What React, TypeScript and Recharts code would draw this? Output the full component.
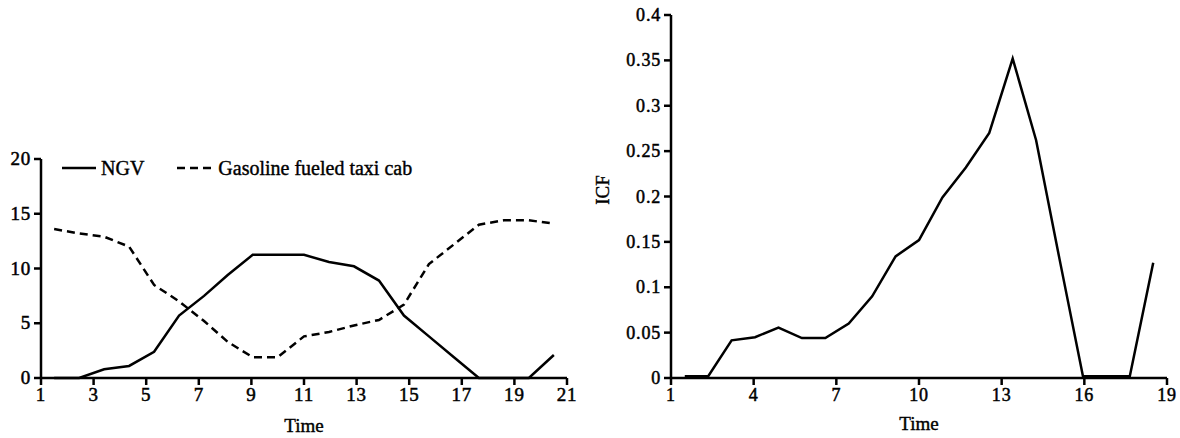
import { LineChart, Line, XAxis, YAxis, Legend } from "recharts";

// left panel: NGV vs gasoline taxi
const leftTime = [1.5, 2.45, 3.4, 4.35, 5.3, 6.25, 7.2, 8.1, 9.05, 10.0, 11.0, 11.95, 12.9, 13.85, 14.8, 15.75, 16.7, 17.65, 18.6, 19.55, 20.5];
const ngv = [0, 0, 0.8, 1.1, 2.4, 5.7, 7.5, 9.4, 11.25, 11.25, 11.25, 10.6, 10.2, 8.9, 5.7, 3.8, 1.9, 0, 0, 0, 2.1];
const gasoline = [13.6, 13.2, 12.9, 12.0, 8.5, 7.0, 5.2, 3.3, 1.9, 1.9, 3.8, 4.2, 4.8, 5.3, 6.7, 10.4, 12.2, 14.0, 14.4, 14.4, 14.1];
const leftXTicks = [1, 3, 5, 7, 9, 11, 13, 15, 17, 19, 21];
const leftYTicks = [0, 5, 10, 15, 20];

// right panel: ICF
const rightTime = [1.5, 2.35, 3.2, 4.05, 4.9, 5.75, 6.6, 7.45, 8.3, 9.15, 10.0, 10.85, 11.7, 12.55, 13.4, 14.25, 15.1, 15.95, 16.8, 17.65, 18.5];
const icf = [0.002, 0.002, 0.0415, 0.045, 0.0555, 0.044, 0.044, 0.06, 0.09, 0.134, 0.152, 0.199, 0.232, 0.27, 0.352, 0.262, 0.131, 0.002, 0.002, 0.002, 0.127];
const rightXTicks = [1, 4, 7, 10, 13, 16, 19];
const rightYTicks = [0, 0.05, 0.1, 0.15, 0.2, 0.25, 0.3, 0.35, 0.4];

const FONT = "Liberation Serif, Times New Roman, serif";

const leftData = leftTime.map((t, i) => ({ t, ngv: ngv[i], gas: gasoline[i] }));
const rightData = rightTime.map((t, i) => ({ t, icf: icf[i] }));

const axisLine = { stroke: "#000", strokeWidth: 2.5 };
const tickLine = { stroke: "#000", strokeWidth: 2.5 };

// serif tick text, slightly thickened like the scanned original
function makeTick(kind: "x" | "y", size: number) {
  return (props: any) => {
    const { x, y, payload } = props;
    const label = String(payload.value);
    return (
      <text
        x={kind === "x" ? x : x - 1}
        y={kind === "x" ? y + 14 : y + 6}
        textAnchor={kind === "x" ? "middle" : "end"}
        fontFamily={FONT}
        fontSize={size}
        letterSpacing={0.8}
        fill="#000"
        stroke="#000"
        strokeWidth={0.5}
      >
        {label}
      </text>
    );
  };
}

function LegendBox() {
  return (
    <div style={{ display: "flex", alignItems: "center", fontFamily: FONT, fontSize: 20, lineHeight: "24px", color: "#000", WebkitTextStroke: "0.4px #000" }}>
      <svg width={34} height={6} style={{ marginRight: 5 }}>
        <line x1={0} y1={3} x2={34} y2={3} stroke="#000" strokeWidth={2.5} />
      </svg>
      <span style={{ marginRight: 33 }}>NGV</span>
      <svg width={36} height={6} style={{ marginRight: 5 }}>
        <line x1={0} y1={3} x2={36} y2={3} stroke="#000" strokeWidth={2.5} strokeDasharray="8 5" />
      </svg>
      <span>Gasoline fueled taxi cab</span>
    </div>
  );
}

const labelStyle = { fill: "#000", fontSize: 19, fontFamily: FONT, stroke: "#000", strokeWidth: 0.4 };

export default function App() {
  return (
    <div style={{ position: "absolute", left: 0, top: 0, width: 1180, height: 438, background: "#fff", fontFamily: FONT }}>
      <div style={{ position: "absolute", left: 0, top: 0 }}>
        <LineChart width={600} height={438} data={leftData} margin={{ top: 159, right: 33, left: 0, bottom: 0 }}>
          <XAxis
            dataKey="t"
            type="number"
            domain={[1, 21]}
            ticks={leftXTicks}
            interval={0}
            height={60}
            axisLine={axisLine}
            tickLine={tickLine}
            tickSize={7}
            tick={makeTick("x", 19)}
            label={{ value: "Time", position: "insideBottom", offset: 6, ...labelStyle }}
          />
          <YAxis
            type="number"
            domain={[0, 20]}
            ticks={leftYTicks}
            interval={0}
            width={41}
            axisLine={axisLine}
            tickLine={tickLine}
            tickSize={7}
            tick={makeTick("y", 19)}
          />
          <Legend
            layout="horizontal"
            verticalAlign="middle"
            align="center"
            content={() => <LegendBox />}
            wrapperStyle={{ top: 156, left: 62, width: "auto" }}
          />
          <Line type="linear" dataKey="ngv" stroke="#000" strokeWidth={2.5} dot={false} isAnimationActive={false} />
          <Line type="linear" dataKey="gas" stroke="#000" strokeWidth={2.5} strokeDasharray="8 5" dot={false} isAnimationActive={false} />
        </LineChart>
      </div>
      <div style={{ position: "absolute", left: 580, top: 0 }}>
        <LineChart width={600} height={438} data={rightData} margin={{ top: 15, right: 13, left: 0, bottom: 0 }}>
          <XAxis
            dataKey="t"
            type="number"
            domain={[1, 19]}
            ticks={rightXTicks}
            interval={0}
            height={60}
            axisLine={axisLine}
            tickLine={tickLine}
            tickSize={7}
            tick={makeTick("x", 18)}
            label={{ value: "Time", position: "insideBottom", offset: 8, ...labelStyle }}
          />
          <YAxis
            type="number"
            domain={[0, 0.4]}
            ticks={rightYTicks}
            interval={0}
            width={91}
            axisLine={axisLine}
            tickLine={tickLine}
            tickSize={7}
            tick={makeTick("y", 18)}
          />
          <Line type="linear" dataKey="icf" stroke="#000" strokeWidth={2.5} dot={false} isAnimationActive={false} />
        </LineChart>
        <div
          style={{
            position: "absolute",
            left: 23,
            top: 190,
            transform: "translate(-50%, -50%) rotate(-90deg)",
            fontFamily: FONT,
            fontSize: 19,
            lineHeight: "20px",
            color: "#000",
            whiteSpace: "nowrap",
            WebkitTextStroke: "0.4px #000",
          }}
        >
          ICF
        </div>
      </div>
    </div>
  );
}
